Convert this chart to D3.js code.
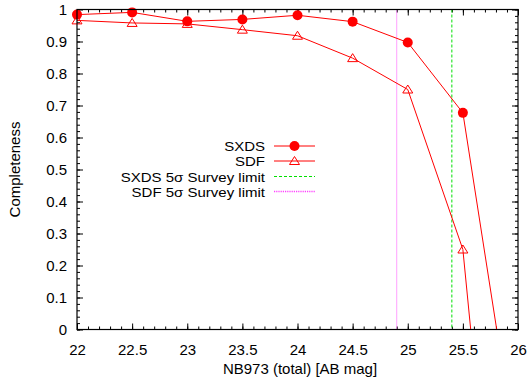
<!DOCTYPE html>
<html><head><meta charset="utf-8">
<script src="https://cdn.jsdelivr.net/npm/d3@7"></script>
<style>
html,body{margin:0;padding:0;background:#fff;}
text{font-family:"Liberation Sans",Arial,sans-serif;fill:#000;}
</style></head>
<body><svg id="c" width="529" height="378"></svg>
<script>
const magnitudes = [22, 22.5, 23, 23.5, 24, 24.5, 25, 25.5, 26];
const sxdsCompleteness = [0.984, 0.991, 0.963, 0.969, 0.982, 0.962, 0.897, 0.677, -0.426];
const sdfCompleteness  = [0.966, 0.958, 0.955, 0.937, 0.918, 0.848, 0.750, 0.250, -1.51];
const sxdsLimit = 25.4;
const sdfLimit = 24.9;
const xTicks = [22, 22.5, 23, 23.5, 24, 24.5, 25, 25.5, 26];
const yTicks = [0, 0.1, 0.2, 0.3, 0.4, 0.5, 0.6, 0.7, 0.8, 0.9, 1];
const legendLabels = ["SXDS", "SDF", "SXDS 5\u03c3 Survey limit", "SDF 5\u03c3 Survey limit"];

const FS = 15;
const svg = d3.select("#c");
const L = 77, R = 518, T = 9.5, B = 329.5;
const x = d3.scaleLinear().domain([22, 26]).range([L, R]);
const y = d3.scaleLinear().domain([0, 1]).range([B, T]);

svg.append("defs").append("clipPath").attr("id", "clip")
  .append("rect").attr("x", L).attr("y", T).attr("width", R - L).attr("height", B - T);

const xMinor = d3.range(22, 26.0001, 0.1).map(v => +v.toFixed(2));
const yMinor = d3.range(0, 1.0001, 0.02).map(v => +v.toFixed(3));

function axisG(axis, tx, ty) {
  const g = svg.append("g").attr("transform", `translate(${tx},${ty})`).call(axis);
  g.select(".domain").remove();
  g.selectAll("line").attr("stroke", "#000").attr("stroke-width", 1);
  g.selectAll("text").attr("font-size", FS).attr("fill", "#000")
    .style("font-family", '"Liberation Sans",Arial,sans-serif');
  return g;
}
// bottom
axisG(d3.axisBottom(x).tickValues(xMinor).tickSize(-3).tickFormat(""), 0, B);
axisG(d3.axisBottom(x).tickValues(xTicks).tickSize(-6).tickPadding(15.3).tickFormat(d3.format("")), 0, B);
// top
axisG(d3.axisTop(x).tickValues(xMinor).tickSize(-3).tickFormat(""), 0, T);
axisG(d3.axisTop(x).tickValues(xTicks).tickSize(-6).tickFormat(""), 0, T);
// left
axisG(d3.axisLeft(y).tickValues(yMinor).tickSize(-3).tickFormat(""), L, 0);
axisG(d3.axisLeft(y).tickValues(yTicks).tickSize(-6).tickPadding(10).tickFormat(d3.format("")), L, 0);
// right
axisG(d3.axisRight(y).tickValues(yMinor).tickSize(-3).tickFormat(""), R, 0);
axisG(d3.axisRight(y).tickValues(yTicks).tickSize(-6).tickFormat(""), R, 0);

// survey limits
svg.append("line").attr("x1", x(sxdsLimit)).attr("x2", x(sxdsLimit)).attr("y1", T).attr("y2", B)
  .attr("stroke", "#00e000").attr("stroke-width", 1).attr("stroke-dasharray", "3,2");
svg.append("line").attr("x1", x(sdfLimit)).attr("x2", x(sdfLimit)).attr("y1", T).attr("y2", B)
  .attr("stroke", "#ff40ff").attr("stroke-width", 1).attr("stroke-dasharray", "1,1");

const line = d3.line().x(d => x(d[0])).y(d => y(d[1]));
const sxds = magnitudes.map((m, i) => [m, sxdsCompleteness[i]]);
const sdf = magnitudes.map((m, i) => [m, sdfCompleteness[i]]);

svg.append("path").datum(sxds).attr("d", line).attr("clip-path", "url(#clip)")
  .attr("fill", "none").attr("stroke", "#ff0000").attr("stroke-width", 1);
svg.append("path").datum(sdf).attr("d", line).attr("clip-path", "url(#clip)")
  .attr("fill", "none").attr("stroke", "#ff0000").attr("stroke-width", 1);

const triPath = "M0,-4.5L5,3.5L-5,3.5Z";
function inRange(d) { return d[1] >= 0 && d[1] <= 1 && d[0] >= 22 && d[0] <= 26; }
svg.selectAll(".sdfpt").data(sdf.filter(inRange)).join("path")
  .attr("transform", d => `translate(${x(d[0])},${y(d[1])})`)
  .attr("d", triPath).attr("fill", "none").attr("stroke", "#ff0000").attr("stroke-width", 1);
svg.selectAll(".sxdspt").data(sxds.filter(inRange)).join("circle")
  .attr("cx", d => x(d[0])).attr("cy", d => y(d[1])).attr("r", 5).attr("fill", "#ff0000");

// frame
svg.append("rect").attr("x", L).attr("y", T).attr("width", R - L).attr("height", B - T)
  .attr("fill", "none").attr("stroke", "#000").attr("stroke-width", 1.2);

// legend
const lg = svg.append("g");
const rowsY = [146, 161, 176.5, 191.5];
const lx0 = 274, lx1 = 315, tx = 265;
const LFS = 13.3;
legendLabels.forEach((t, i) => {
  const el = lg.append("text").attr("x", tx).attr("y", rowsY[i] + 5).attr("text-anchor", "end")
    .attr("font-size", LFS).text(t);
  const w = el.node().getComputedTextLength();
  el.attr("textLength", w * FS / LFS).attr("lengthAdjust", "spacingAndGlyphs");
});
lg.append("line").attr("x1", lx0).attr("x2", lx1).attr("y1", rowsY[0]).attr("y2", rowsY[0]).attr("stroke", "#ff0000");
lg.append("circle").attr("cx", (lx0 + lx1) / 2).attr("cy", rowsY[0]).attr("r", 5).attr("fill", "#ff0000");
lg.append("line").attr("x1", lx0).attr("x2", lx1).attr("y1", rowsY[1]).attr("y2", rowsY[1]).attr("stroke", "#ff0000");
lg.append("path").attr("transform", `translate(${(lx0 + lx1) / 2},${rowsY[1]})`).attr("d", triPath)
  .attr("fill", "none").attr("stroke", "#ff0000");
lg.append("line").attr("x1", lx0).attr("x2", lx1).attr("y1", rowsY[2]).attr("y2", rowsY[2])
  .attr("stroke", "#00e000").attr("stroke-dasharray", "3,2");
lg.append("line").attr("x1", lx0).attr("x2", lx1).attr("y1", rowsY[3]).attr("y2", rowsY[3])
  .attr("stroke", "#ff40ff").attr("stroke-width", 1.3).attr("stroke-dasharray", "1.2,1");

// axis titles
svg.append("text").attr("x", 300).attr("y", 374).attr("text-anchor", "middle")
  .attr("font-size", FS).text("NB973 (total) [AB mag]");
svg.append("text").attr("transform", `translate(19.5,${(T + B) / 2}) rotate(-90)`)
  .attr("text-anchor", "middle").attr("font-size", FS).text("Completeness");
</script></body></html>
